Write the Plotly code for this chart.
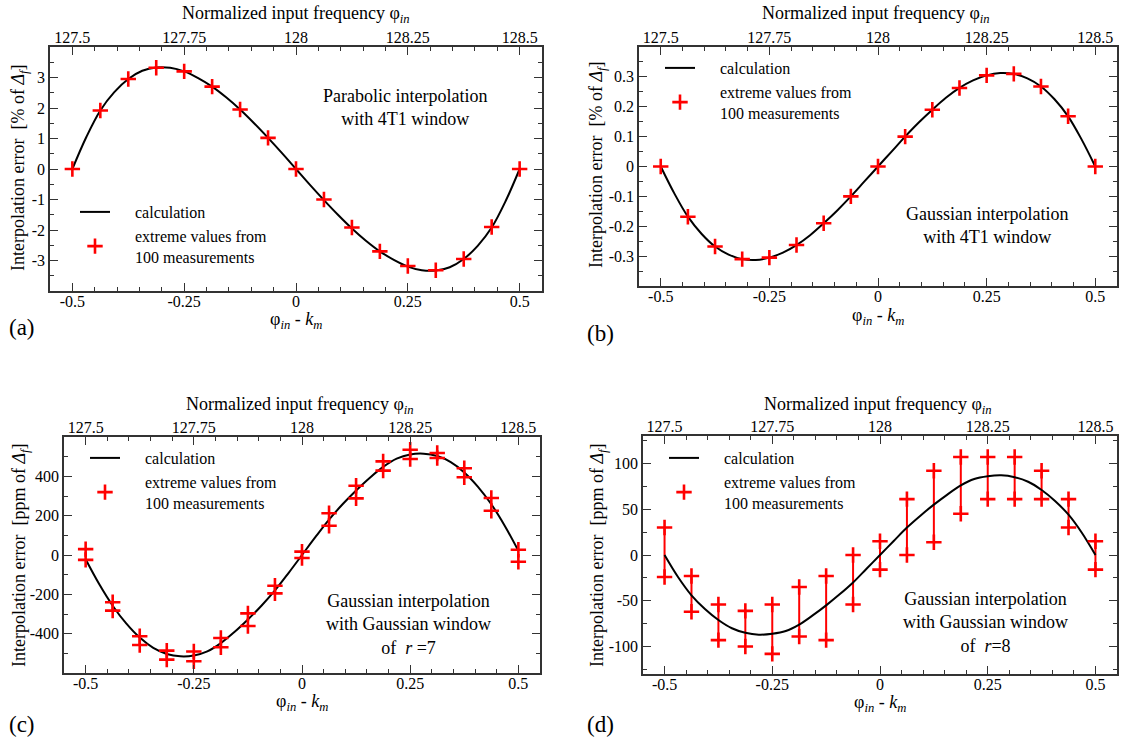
import plotly.graph_objects as go

# ---------------- data ----------------
X_MEAS = [-0.5, -0.4375, -0.375, -0.3125, -0.25, -0.1875, -0.125, -0.0625, 0.0,
          0.0625, 0.125, 0.1875, 0.25, 0.3125, 0.375, 0.4375, 0.5]
X_CALC = [i / 32 - 0.5 for i in range(33)]

# (a) parabolic interpolation, 4T1 window  [% of Δf]
calc_a = [0, 1.05, 1.92, 2.52, 2.95, 3.22, 3.33, 3.32, 3.20, 2.98, 2.70, 2.35, 1.95, 1.50, 1.02, 0.52, 0,
          -0.52, -1.02, -1.50, -1.95, -2.35, -2.70, -2.98, -3.20, -3.32, -3.33, -3.22, -2.95, -2.52, -1.92, -1.05, 0]
meas_a = [0, 1.92, 2.95, 3.32, 3.20, 2.70, 1.95, 1.02, 0, -1.00, -1.92, -2.70, -3.18, -3.32, -2.95, -1.90, 0]

# (b) Gaussian interpolation, 4T1 window  [% of Δf]
calc_b = [0, -0.090, -0.168, -0.225, -0.268, -0.295, -0.310, -0.313, -0.305, -0.288, -0.263, -0.230, -0.190,
          -0.147, -0.100, -0.050, 0, 0.050, 0.100, 0.147, 0.190, 0.230, 0.263, 0.288, 0.305, 0.313, 0.310,
          0.295, 0.268, 0.225, 0.168, 0.090, 0]
meas_b = [0, -0.168, -0.268, -0.310, -0.305, -0.263, -0.190, -0.100, 0, 0.100, 0.190, 0.263, 0.305, 0.310,
          0.268, 0.168, 0]

# (c) Gaussian interpolation, Gaussian window r=7  [ppm of Δf]
calc_c = [-22, -148, -258, -348, -420, -472, -503, -515, -511, -490, -448, -392, -328, -258, -180, -92, 0,
          92, 180, 258, 328, 392, 448, 490, 511, 515, 503, 472, 420, 348, 258, 148, 22]
meas_c_hi = [30, -240, -413, -486, -491, -422, -297, -156, 17, 212, 352, 476, 535, 519, 441, 290, 27]
meas_c_lo = [-25, -283, -458, -532, -540, -469, -361, -195, -15, 149, 288, 429, 488, 493, 395, 225, -34]

# (d) Gaussian interpolation, Gaussian window r=8  [ppm of Δf]
calc_d = [0, -24, -44, -59, -71, -80, -85, -87, -86, -83, -76, -66, -55, -43, -30, -15, 0,
          15, 30, 43, 55, 66, 76, 83, 86, 87, 85, 80, 71, 59, 44, 24, 0]
meas_d_hi = [30, -23, -54, -61, -54, -35, -23, 0, 15, 61, 92, 107, 107, 107, 92, 61, 15]
meas_d_lo = [-24, -62, -93, -100, -108, -89, -93, -54, -16, 0, 14, 45, 61, 61, 61, 30, -16]

X_TICKS = [-0.5, -0.25, 0, 0.25, 0.5]
X_TICKTEXT = ["-0.5", "-0.25", "0", "0.25", "0.5"]
TOP_TICKS = [127.5, 127.75, 128, 128.25, 128.5]
TOP_TICKTEXT = ["127.5", "127.75", "128", "128.25", "128.5"]

Y_TICKS_A = [-3, -2, -1, 0, 1, 2, 3]
Y_TICKS_B = [-0.3, -0.2, -0.1, 0, 0.1, 0.2, 0.3]
Y_TICKS_C = [-400, -200, 0, 200, 400]
Y_TICKS_D = [-100, -50, 0, 50, 100]


def fmt(v):
    return "%g" % v


# ---------------- styling ----------------
W, H = 1122, 742
FONT = "Liberation Serif, Times New Roman, Times, DejaVu Serif, serif"
RED = "#ff0000"
AXC = "#333333"
PAD = "\u00a0" * 5


def px(x, y):
    return x / W, 1 - y / H


fig = go.Figure()

panels = [
    dict(calc=calc_a, meas=[meas_a], yt=Y_TICKS_A, yr=[-4, 4], ym=0.5,
         dx=[50, 542], dy=[47, 291], leg="legend", bars=False),
    dict(calc=calc_b, meas=[meas_b], yt=Y_TICKS_B, yr=[-0.4, 0.4], ym=0.05,
         dx=[639, 1117], dy=[47, 286], leg="legend2", bars=False),
    dict(calc=calc_c, meas=[meas_c_hi, meas_c_lo], yt=Y_TICKS_C, yr=[-600, 600], ym=100,
         dx=[64, 540], dy=[437, 673], leg="legend3", bars=False),
    dict(calc=calc_d, meas=[meas_d_hi, meas_d_lo], yt=Y_TICKS_D, yr=[-130, 130], ym=25,
         dx=[643, 1117], dy=[436, 674], leg="legend4", bars=True),
]

layout = {}
for i, p in enumerate(panels):
    xt = "x%d" % (2 * i + 2)
    xb_l = "xaxis" if i == 0 else "xaxis%d" % (2 * i + 1)
    xt_l = "xaxis%d" % (2 * i + 2)
    yy_l = "yaxis" if i == 0 else "yaxis%d" % (i + 1)
    xb_ref = "x" if i == 0 else "x%d" % (2 * i + 1)
    yy_ref = "y" if i == 0 else "y%d" % (i + 1)

    # vertical connecting lines between the extreme values (panel d)
    if p["bars"]:
        bx, by = [], []
        for xv, hi, lo in zip(X_MEAS, p["meas"][0], p["meas"][1]):
            bx += [xv, xv, None]
            by += [lo, hi, None]
        fig.add_trace(go.Scatter(x=bx, y=by, mode="lines", line=dict(color=RED, width=2),
                                 xaxis=xb_ref, yaxis=yy_ref, showlegend=False, hoverinfo="skip"))

    fig.add_trace(go.Scatter(x=X_CALC, y=p["calc"], mode="lines",
                             line=dict(color="black", width=2, shape="spline", smoothing=1.0),
                             name=PAD + "calculation", xaxis=xb_ref, yaxis=yy_ref, legend=p["leg"]))
    allx, ally = [], []
    for m in p["meas"]:
        allx += X_MEAS
        ally += m
    fig.add_trace(go.Scatter(x=allx, y=ally, mode="markers",
                             marker=dict(symbol="cross-thin", size=11, line=dict(color=RED, width=2.6),
                                         color=RED),
                             name=PAD + "extreme values from<br>" + PAD + "100 measurements",
                             xaxis=xb_ref, yaxis=yy_ref, legend=p["leg"]))
    # trace carrying the top (absolute frequency) axis
    fig.add_trace(go.Scatter(x=[TOP_TICKS[0], TOP_TICKS[-1]], y=[None, None], mode="lines",
                             xaxis=xt, yaxis=yy_ref, showlegend=False, hoverinfo="skip"))

    dom_x = [p["dx"][0] / W, p["dx"][1] / W]
    dom_y = [1 - p["dy"][1] / H, 1 - p["dy"][0] / H]
    tickfont = dict(family=FONT, size=16, color="black")
    layout[xb_l] = dict(domain=dom_x, anchor=yy_ref, range=[-0.55, 0.55],
                        tickmode="array", tickvals=X_TICKS, ticktext=X_TICKTEXT,
                        ticks="inside", ticklen=8, tickwidth=1.2, tickcolor=AXC,
                        ticklabelstandoff=-5,
                        minor=dict(tickmode="linear", tick0=0, dtick=0.05, ticks="inside",
                                   ticklen=4, tickwidth=1.2, tickcolor=AXC),
                        showline=True, linecolor=AXC, linewidth=1.5, mirror=True,
                        showgrid=False, zeroline=False, tickfont=tickfont)
    layout[xt_l] = dict(overlaying=xb_ref, anchor=yy_ref, side="top", range=[127.45, 128.55],
                        tickmode="array", tickvals=TOP_TICKS, ticktext=TOP_TICKTEXT,
                        ticks="inside", ticklen=8, tickwidth=1.2, tickcolor=AXC,
                        minor=dict(tickmode="linear", tick0=128, dtick=0.05, ticks="inside",
                                   ticklen=4, tickwidth=1.2, tickcolor=AXC),
                        showline=False, showgrid=False, zeroline=False, tickfont=tickfont)
    layout[yy_l] = dict(domain=dom_y, anchor=xb_ref, range=p["yr"],
                        tickmode="array", tickvals=p["yt"], ticktext=[fmt(v) for v in p["yt"]],
                        ticks="inside", ticklen=8, tickwidth=1.2, tickcolor=AXC,
                        minor=dict(tickmode="linear", tick0=0, dtick=p["ym"], ticks="inside",
                                   ticklen=4, tickwidth=1.2, tickcolor=AXC),
                        showline=True, linecolor=AXC, linewidth=1.5, mirror="ticks",
                        showgrid=False, zeroline=False, tickfont=tickfont)

leg_common = dict(font=dict(family=FONT, size=16, color="black"), bgcolor="rgba(0,0,0,0)",
                  xanchor="left", yanchor="top", tracegroupgap=0, itemwidth=30)
lx, ly = px(75, 195)
layout["legend"] = dict(x=lx, y=ly, **leg_common)
lx, ly = px(660, 51)
layout["legend2"] = dict(x=lx, y=ly, **leg_common)
lx, ly = px(85, 441)
layout["legend3"] = dict(x=lx, y=ly, **leg_common)
lx, ly = px(664, 441)
layout["legend4"] = dict(x=lx, y=ly, **leg_common)

annots = []


def add_text(x, y, text, size=18, angle=0):
    ax, ay = px(x, y)
    annots.append(dict(x=ax, y=ay, xref="paper", yref="paper", text=text, showarrow=False,
                       font=dict(family=FONT, size=size, color="black"), textangle=angle,
                       xanchor="center", yanchor="middle", align="center"))


top_title = "Normalized input frequency φ<sub><i>in</i></sub>"
bot_title = "φ<sub><i>in</i></sub> - <i>k<sub>m</sub></i>"
ytitle_pct = "Interpolation error  [% of <i>Δ<sub>f</sub></i>]"
ytitle_ppm = "Interpolation error  [ppm of <i>Δ<sub>f</sub></i>]"

# panel a
add_text(296, 15, top_title)
add_text(296, 320, bot_title)
add_text(20, 168, ytitle_pct, angle=-90)
add_text(405, 107, "Parabolic interpolation<br>with 4T1 window")
add_text(22, 328, "(a)", size=23)
# panel b
add_text(876, 15, top_title)
add_text(878, 316, bot_title)
add_text(598, 165, ytitle_pct, angle=-90)
add_text(987, 226, "Gaussian interpolation<br>with 4T1 window")
add_text(600, 333, "(b)", size=23)
# panel c
add_text(300, 405, top_title)
add_text(302, 702, bot_title)
add_text(20, 555, ytitle_ppm, angle=-90)
add_text(408, 624, "Gaussian interpolation<br>with Gaussian window<br>of  <i>r</i> =7")
add_text(22, 724, "(c)", size=23)
# panel d
add_text(878, 405, top_title)
add_text(880, 703, bot_title)
add_text(598, 555, ytitle_ppm, angle=-90)
add_text(985, 622, "Gaussian interpolation<br>with Gaussian window<br>of  <i>r</i>=8")
add_text(600, 724, "(d)", size=23)

fig.update_layout(width=W, height=H, margin=dict(l=0, r=0, t=0, b=0),
                  paper_bgcolor="white", plot_bgcolor="white",
                  font=dict(family=FONT, size=16, color="black"),
                  annotations=annots, **layout)

fig.write_html("out.html", config={"displayModeBar": False},
               post_script="document.body.style.margin='0px';"
                           "document.documentElement.style.overflow='hidden';")
